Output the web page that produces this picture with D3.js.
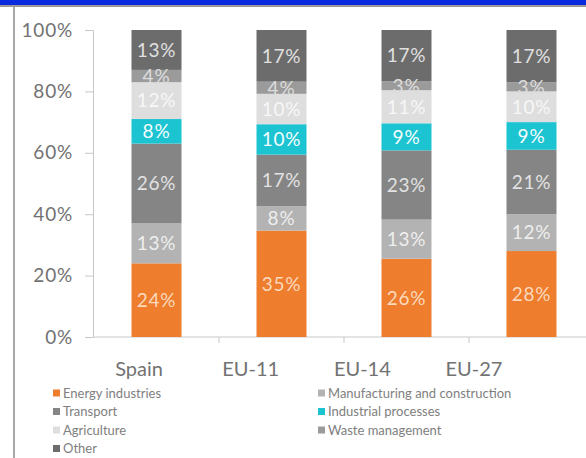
<!DOCTYPE html>
<html>
<head>
<meta charset="utf-8">
<script src="https://cdn.jsdelivr.net/npm/d3@7"></script>
<style>
  html, body { margin: 0; padding: 0; background: #fff; }
  svg { display: block; }
  text { font-family: Lato, "Open Sans", sans-serif; }
</style>
</head>
<body>
<svg id="chart" width="586" height="458"></svg>
<script>
// Regions on the x axis
const categories = ["Spain", "EU-11", "EU-14", "EU-27"];

// Sector shares (%) per region, stacked bottom to top
const sectors = ["Energy industries", "Manufacturing and construction", "Transport",
                 "Industrial processes", "Agriculture", "Waste management", "Other"];
const energy        = [24, 35, 26, 28];
const manufacturing = [13,  8, 13, 12];
const transport     = [26, 17, 23, 21];
const industrial    = [ 8, 10,  9,  9];
const agriculture   = [12, 10, 11, 10];
const waste         = [ 4,  4,  3,  3];
const other         = [13, 17, 17, 17];

const yTicks = [0, 0.2, 0.4, 0.6, 0.8, 1];

const seriesValues = [energy, manufacturing, transport, industrial, agriculture, waste, other];
const colors = ["#ee7d2e", "#b3b3b3", "#858585", "#1cc4d2", "#dedede", "#9b9b9b", "#6c6c6c"];
const labelColors = ["#fbd9bd", "#eeeeee", "#e2e2e2", "#f4fdfe", "#f7f7f7", "#dcdcdc", "#e0e0e0"];

// Row objects for d3.stack
const rows = categories.map((c, i) => {
  const r = { category: c };
  sectors.forEach((s, k) => { r[s] = seriesValues[k][i]; });
  return r;
});

const stack = d3.stack().keys(sectors).offset(d3.stackOffsetExpand);
const layers = stack(rows);

const svg = d3.select("#chart");

// Frame: blue header strip, grey rule and left border
svg.append("rect").attr("x", 0).attr("y", 0).attr("width", 586).attr("height", 5).attr("fill", "#0a2ae0");
svg.append("rect").attr("x", 0).attr("y", 5).attr("width", 586).attr("height", 2).attr("fill", "#9a9a9a");
svg.append("rect").attr("x", 13).attr("y", 7).attr("width", 2).attr("height", 451).attr("fill", "#a8a8a8");

const x = d3.scaleBand().domain(categories).range([94, 594]).paddingInner(0.6).paddingOuter(0.3);
const y = d3.scaleLinear().domain([0, 1]).range([337, 30]);
// Category captions sit on a tighter spacing than the bars
const xLabel = d3.scalePoint().domain(categories).range([139, 474]);

// Y axis
const yAxis = svg.append("g").attr("transform", "translate(93,0)")
  .call(d3.axisLeft(y).tickValues(yTicks).tickFormat(d3.format(".0%")).tickSize(8).tickPadding(12));
yAxis.select(".domain").attr("stroke", "#c8c8c8");
yAxis.selectAll(".tick line").attr("stroke", "#c8c8c8");
yAxis.selectAll(".tick text").attr("fill", "#727272")
  .style("font-size", "19px").style("letter-spacing", "0.8px");

// X axis with ticks between categories
const xAxisG = svg.append("g").attr("transform", "translate(0,337)");
xAxisG.append("line").attr("x1", 93).attr("x2", 586).attr("y1", 0).attr("y2", 0).attr("stroke", "#c8c8c8");
categories.slice(1).forEach(c => {
  const xb = x(c) - (x.step() - x.bandwidth()) / 2;
  xAxisG.append("line").attr("x1", xb).attr("x2", xb).attr("y1", 0).attr("y2", 6).attr("stroke", "#c8c8c8");
});
xAxisG.selectAll("text.cat").data(categories).join("text")
  .attr("class", "cat")
  .attr("x", d => xLabel(d))
  .attr("y", 39)
  .attr("text-anchor", "middle")
  .attr("fill", "#727272")
  .style("font-size", "20px")
  .text(d => d);

// Stacked bars
const layerG = svg.append("g").selectAll("g").data(layers).join("g")
  .attr("fill", (d, i) => colors[i]);
layerG.selectAll("rect").data(d => d).join("rect")
  .attr("x", d => x(d.data.category))
  .attr("width", x.bandwidth())
  .attr("y", d => y(d[1]))
  .attr("height", d => y(d[0]) - y(d[1]));

// Value labels
const labelG = svg.append("g").selectAll("g").data(layers).join("g")
  .attr("fill", (d, i) => labelColors[i]);
labelG.selectAll("text").data(d => d.map(p => ({ p, key: d.key }))).join("text")
  .attr("x", d => x(d.p.data.category) + x.bandwidth() / 2)
  .attr("y", d => (y(d.p[0]) + y(d.p[1])) / 2)
  .attr("dy", "0.36em")
  .attr("text-anchor", "middle")
  .style("font-size", "19px")
  .style("letter-spacing", "0.8px")
  .text(d => d.p.data[d.key] + "%");

// Legend: two columns
const legendItems = [
  { i: 0, col: 0, row: 0 }, { i: 1, col: 1, row: 0 },
  { i: 2, col: 0, row: 1 }, { i: 3, col: 1, row: 1 },
  { i: 4, col: 0, row: 2 }, { i: 5, col: 1, row: 2 },
  { i: 6, col: 0, row: 3 }
];
const legend = svg.append("g").selectAll("g").data(legendItems).join("g")
  .attr("transform", d => `translate(${d.col ? 318 : 53},${393 + d.row * 18.5})`);
legend.append("rect").attr("x", 0).attr("y", -3.5).attr("width", 7).attr("height", 7)
  .attr("fill", d => colors[d.i]);
legend.append("text").attr("x", 10).attr("dy", "0.35em")
  .attr("fill", "#808080").style("font-size", "13px")
  .text(d => sectors[d.i]);
</script>
</body>
</html>
